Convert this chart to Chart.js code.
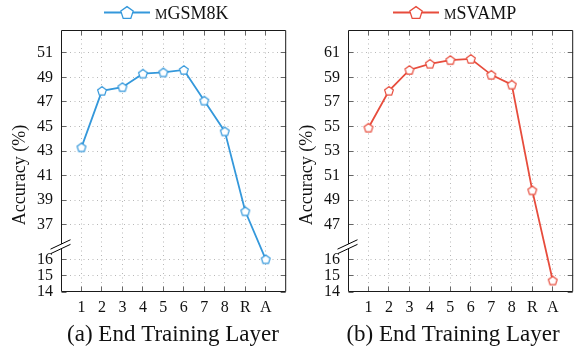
<!DOCTYPE html>
<html>
<head>
<meta charset="utf-8">
<script src="https://cdn.jsdelivr.net/npm/chart.js@4.4.1/dist/chart.umd.min.js"></script>
<style>
  html, body { margin: 0; padding: 0; background: #fff; }
  #wrap { position: relative; width: 580px; height: 349px; overflow: hidden; }
  canvas { position: absolute; top: 0; }
</style>
</head>
<body>
<div id="wrap">
  <canvas id="gsm" width="293" height="349" style="left:0px"></canvas>
  <canvas id="svamp" width="293" height="349" style="left:287px"></canvas>
</div>
<script>
// End training layer (1-8, R, A) on the x axis
const LAYERS = ['1', '2', '3', '4', '5', '6', '7', '8', 'R', 'A'];

// Accuracy (%) per end training layer
const GSM_ACC   = [43.3, 47.9, 48.2, 49.3, 49.4, 49.6, 47.1, 44.6, 38.1, 16.0];
const SVAMP_ACC = [54.9, 57.9, 59.6, 60.1, 60.4, 60.5, 59.2, 58.4, 49.8, 14.7];

// y tick labels: the upper part of each broken axis, and the shared lower part
const GSM_TICKS   = [37, 39, 41, 43, 45, 47, 49, 51];
const SVAMP_TICKS = [47, 49, 51, 53, 55, 57, 59, 61];
const LOWER_TICKS = [14, 15, 16];

const SERIF = '"Liberation Serif", "Times New Roman", serif';
const BLUE = '#3498db';
const RED = '#e74c3c';
const GRID = '#b8b8b8';
const INK = '#111';

// the lower segment below the axis break is drawn stretched
const LOWER_STRETCH = 1.33;
const LOWER_DROP = 5.47;   // axis units between the lowest lower tick and the first upper tick
const TOP_PAD = 1.85;      // axis units above the top tick

function pentagon(ctx, cx, cy, r) {
  ctx.beginPath();
  for (let k = 0; k < 5; k++) {
    const a = -Math.PI / 2 + k * 2 * Math.PI / 5;
    const px = cx + r * Math.cos(a), py = cy + r * Math.sin(a);
    if (k) ctx.lineTo(px, py); else ctx.moveTo(px, py);
  }
  ctx.closePath();
}

function markerImage(color, r) {
  const size = Math.ceil(2 * r + 4);
  const c = document.createElement('canvas');
  c.width = c.height = size;
  const g = c.getContext('2d');
  pentagon(g, size / 2, size / 2 + r * 0.095, r);
  g.fillStyle = '#fff';
  g.fill();
  g.lineWidth = 1.2;
  g.strokeStyle = color;
  g.stroke();
  return c;
}

const decor = {
  id: 'panelDecor',
  beforeDatasetsDraw(chart, args, o) {
    const { ctx, chartArea: a, scales: { x, y } } = chart;
    ctx.save();
    ctx.strokeStyle = GRID;
    ctx.lineWidth = 1;
    ctx.setLineDash([1, 3.5]);
    ctx.beginPath();
    x.ticks.forEach(t => {
      const px = Math.floor(x.getPixelForValue(t.value)) + 0.5;
      ctx.moveTo(px, a.top); ctx.lineTo(px, a.bottom);
    });
    y.ticks.forEach(t => {
      const py = Math.floor(y.getPixelForValue(t.value)) + 0.5;
      if (py < a.bottom - 2) { ctx.moveTo(a.left, py); ctx.lineTo(a.right, py); }
    });
    ctx.stroke();
    ctx.restore();
  },
  afterDatasetsDraw(chart, args, o) {
    const { ctx, chartArea: a, scales: { x, y } } = chart;
    const L = a.left + 0.5, R = a.right - 0.5, T = a.top + 0.5, B = a.bottom - 0.5;
    ctx.save();
    // inward tick marks on all four sides
    ctx.strokeStyle = '#666';
    ctx.lineWidth = 1;
    ctx.beginPath();
    const tl = 5;
    x.ticks.forEach(t => {
      const px = Math.floor(x.getPixelForValue(t.value)) + 0.5;
      ctx.moveTo(px, B); ctx.lineTo(px, B - tl);
      ctx.moveTo(px, T); ctx.lineTo(px, T + tl);
    });
    y.ticks.forEach(t => {
      const py = Math.floor(y.getPixelForValue(t.value)) + 0.5;
      ctx.moveTo(L, py); ctx.lineTo(L + tl, py);
      ctx.moveTo(R, py); ctx.lineTo(R - tl, py);
    });
    ctx.stroke();
    // frame
    ctx.strokeStyle = '#1a1a1a';
    ctx.beginPath();
    ctx.rect(L, T, R - L, B - T);
    ctx.stroke();
    // axis break on the left axis
    const yc = y.getPixelForValue(o.toAxis(LOWER_TICKS[LOWER_TICKS.length - 1])) - 12.8;
    const x0 = a.left - 10.5, x1 = a.left + 9.5, k = -0.47, gap = 2.3;
    const yAt = (xx, off) => yc + off + (xx - a.left) * k;
    ctx.fillStyle = '#fff';
    ctx.beginPath();
    ctx.moveTo(x0, yAt(x0, -gap)); ctx.lineTo(x1, yAt(x1, -gap));
    ctx.lineTo(x1, yAt(x1, gap)); ctx.lineTo(x0, yAt(x0, gap));
    ctx.closePath();
    ctx.fill();
    ctx.strokeStyle = '#000';
    ctx.beginPath();
    ctx.moveTo(x0, yAt(x0, -gap)); ctx.lineTo(x1, yAt(x1, -gap));
    ctx.moveTo(x0, yAt(x0, gap)); ctx.lineTo(x1, yAt(x1, gap));
    ctx.stroke();
    ctx.restore();
  },
  afterDraw(chart, args, o) {
    const { ctx } = chart;
    ctx.save();
    // legend: line with a pentagon marker, then the dataset name in small caps
    const ly = 12.5;
    ctx.strokeStyle = o.color;
    ctx.lineWidth = 1.8;
    ctx.beginPath();
    ctx.moveTo(o.legendX, ly); ctx.lineTo(o.legendX + 46, ly);
    ctx.stroke();
    pentagon(ctx, o.legendX + 23, ly + 0.6, 6.5);
    ctx.fillStyle = '#fff';
    ctx.fill();
    ctx.lineWidth = 1.3;
    ctx.stroke();
    ctx.fillStyle = INK;
    ctx.textBaseline = 'alphabetic';
    ctx.textAlign = 'left';
    let tx = o.legendX + 51;
    ctx.font = '14px ' + SERIF;
    ctx.fillText(o.nameLead, tx, 18.5);
    tx += ctx.measureText(o.nameLead).width;
    ctx.font = '18px ' + SERIF;
    ctx.fillText(o.nameRest, tx, 18.5);
    // y axis title
    ctx.save();
    ctx.translate(20, 175);
    ctx.rotate(-Math.PI / 2);
    ctx.textAlign = 'center';
    ctx.textBaseline = 'middle';
    ctx.font = '18px ' + SERIF;
    ctx.fillText('Accuracy (%)', 0, 0);
    ctx.restore();
    // caption under the x axis
    ctx.textAlign = 'center';
    ctx.textBaseline = 'alphabetic';
    ctx.font = '23px ' + SERIF;
    ctx.fillText(o.caption, o.captionX, 341);
    ctx.restore();
  }
};

function makePanel(id, values, upperTicks, color, opts) {
  const lowerOrigin = upperTicks[0] - LOWER_DROP;
  const toAxis = v => v >= 25 ? v : lowerOrigin + (v - LOWER_TICKS[0]) * LOWER_STRETCH;
  const yTicks = [...LOWER_TICKS, ...upperTicks];
  const tickFont = { family: SERIF, size: 16 };

  return new Chart(document.getElementById(id), {
    type: 'line',
    data: {
      datasets: [{
        data: values.map((v, i) => ({ x: i + 1, y: toAxis(v) })),
        borderColor: color,
        backgroundColor: '#fff',
        borderWidth: 1.8,
        pointStyle: markerImage(color, 4.6),
        pointRadius: 5,
        pointHoverRadius: 5,
        fill: false,
        tension: 0,
        clip: false
      }]
    },
    options: {
      responsive: false,
      animation: false,
      events: [],
      layout: { padding: { left: 0, right: 3, top: 30, bottom: 0 } },
      plugins: {
        legend: { display: false },
        tooltip: { enabled: false },
        panelDecor: Object.assign({ toAxis, color }, opts)
      },
      scales: {
        x: {
          type: 'linear',
          min: 0,
          max: LAYERS.length + 1,
          afterBuildTicks: s => { s.ticks = LAYERS.map((_, i) => ({ value: i + 1 })); },
          afterFit: s => { s.height = 57; },
          ticks: {
            callback: (v, i) => LAYERS[i],
            font: tickFont,
            color: INK,
            padding: 6,
            maxRotation: 0,
            autoSkip: false
          },
          grid: { display: false, drawTicks: false },
          border: { display: false }
        },
        y: {
          type: 'linear',
          min: toAxis(LOWER_TICKS[0]),
          max: upperTicks[upperTicks.length - 1] + TOP_PAD,
          afterBuildTicks: s => { s.ticks = yTicks.map(v => ({ value: toAxis(v) })); },
          afterFit: s => { s.width = 61; },
          ticks: {
            callback: (v, i) => String(yTicks[i]),
            font: tickFont,
            color: INK,
            padding: 8,
            autoSkip: false
          },
          grid: { display: false, drawTicks: false },
          border: { display: false }
        }
      }
    },
    plugins: [decor]
  });
}

makePanel('gsm', GSM_ACC, GSM_TICKS, BLUE, {
  legendX: 104, nameLead: 'M', nameRest: 'GSM8K',
  caption: '(a) End Training Layer', captionX: 173
});
makePanel('svamp', SVAMP_ACC, SVAMP_TICKS, RED, {
  legendX: 106, nameLead: 'M', nameRest: 'SVAMP',
  caption: '(b) End Training Layer', captionX: 166
});
</script>
</body>
</html>
